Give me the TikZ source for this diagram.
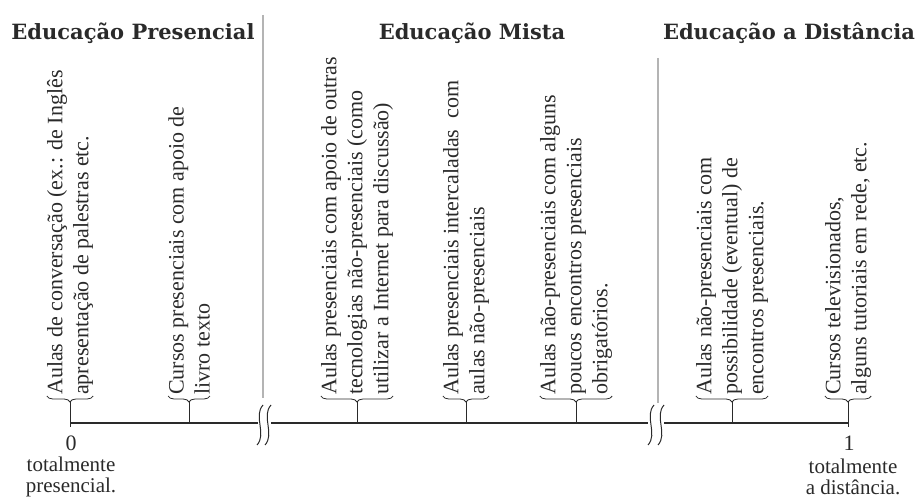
\documentclass[tikz,border=0pt]{standalone}
\usepackage{fontspec}
\setmainfont{Liberation Serif}
\newfontfamily\headfont{DejaVu Serif}
\usepackage{xcolor}
\usetikzlibrary{decorations.pathreplacing,calc}
\definecolor{sepgray}{HTML}{B4B4B4}
\definecolor{ink}{HTML}{2A2A2A}

\begin{document}
\begin{tikzpicture}[x=1pt,y=1pt,
  font=\fontsize{22}{26}\selectfont,text=ink,draw=ink,
  head/.style={font=\headfont\bfseries\fontsize{21}{24}\selectfont},
  item/.style={rotate=90,anchor=west,align=left,inner sep=0pt},
  brc/.style={decorate,decoration={brace,mirror,amplitude=6pt},line width=0.8pt},
  tk/.style={line width=1pt},
  ax/.style={line width=1.2pt},
  brk/.style={line width=1pt},
  sep/.style={draw=sepgray,line width=1.6pt},
  endlbl/.style={align=center,font=\fontsize{21}{21}\selectfont}
]
\useasboundingbox (0,0) rectangle (917,502);

% headings
\node[head] (hp) at (133,469) {Educação Presencial};
\node[head] (hm) at (472,469) {Educação Mista};
\node[head] (hd) at (789,469) {Educação a Distância};

% separators
\draw[sep] (263,487) -- (263,104);
\draw[sep] (658,444) -- (658,99);

% axis
\coordinate (a0) at (70,79);
\coordinate (b1l) at (258,79);
\coordinate (b1r) at (271,79);
\coordinate (b2l) at (648,79);
\coordinate (b2r) at (664,79);
\coordinate (a1) at (848,79);
\draw[ax] (a0) -- (b1l);
\draw[ax] (b1r) -- (b2l);
\draw[ax] (b2r) -- (a1);
\foreach \bx in {260,268,651,661}
  \draw[brk] (\bx+3,97) .. controls (\bx-7,86) and (\bx+7,68) .. (\bx-3,57);

% examples along the line
\node[item] (i1) at (70,107)  {Aulas de conversação (ex.: de Inglês\\apresentação de palestras etc.};
\node[item] (i2) at (189,107) {Cursos presenciais com apoio de\\livro texto};
\node[item] (i3) at (357,107) {Aulas presenciais com apoio de outras\\tecnologias não-presenciais (como\\utilizar a Internet para discussão)};
\node[item] (i4) at (466,107) {Aulas presenciais intercaladas\ \ com\\aulas não-presenciais};
\node[item] (i5) at (576,107) {Aulas não-presenciais com alguns\\poucos encontros presenciais\\obrigatórios.};
\node[item] (i6) at (732,107) {Aulas não-presenciais com\\possibilidade (eventual) de\\encontros presenciais.};
\node[item] (i7) at (848,107) {Cursos televisionados,\\alguns tutoriais em rede, etc.};

\foreach \n in {1,...,7}{
  \draw[brc] ([yshift=-1pt]i\n.north west) -- ([yshift=-1pt]i\n.south west);
  \coordinate (t\n) at ($(i\n.west)+(0,-7)$);
  \draw[tk] (t\n) -- (t\n |- a0);
}
\draw[tk] (a0) -- ++(0,-4);
\draw[tk] (a1) -- ++(0,-4);

% ends of the scale
\node (zero) at (71,59) {0};
\node[endlbl] (pres) at (71,25) {totalmente\\presencial.};
\node (one) at (849,59) {1};
\node[endlbl] (dist) at (853,25) {totalmente\\a distância.};
\end{tikzpicture}
\end{document}
